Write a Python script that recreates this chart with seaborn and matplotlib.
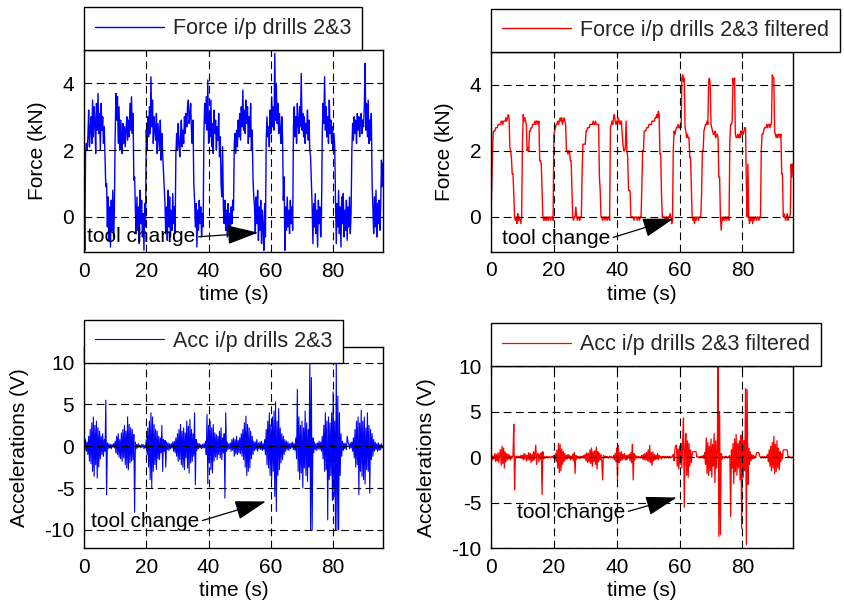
import numpy as np
import pandas as pd
import matplotlib
matplotlib.use("Agg")
import matplotlib.pyplot as plt
import seaborn as sns

DT = 0.25

# ---- Force, raw (kN), 4 samples per second ----
force_raw = [
    0.9, -1.0, 1.9, 2.2,   2.0, 2.4, 3.2, 2.1,   2.6, 3.0, 2.2, 3.5,   2.4, 3.3, 2.9, 1.9,
    3.4, 2.6, 3.7, 2.5,    3.1, 2.0, 3.4, 2.6,   3.0, 2.2, 2.7, 1.8,   0.9, 1.0, -0.3, 0.6,
    -0.7, 0.3, -0.9, 0.5,  -0.4, 0.8, -0.6, 0.2, 2.4, 3.7, 2.9, 3.6,   2.2, 3.3, 2.0, 2.9,
    2.5, 1.9, 2.8, 2.2,    2.7, 2.1, 2.6, 3.0,   2.3, 2.9, 2.4, 3.4,   2.6, 3.6, 2.5, 3.1,
    1.1, 1.2, 0.2, -0.5,   0.6, -0.4, 0.3, -0.8, 0.8, -0.2, 0.5, -0.6, 0.1, -1.0, 0.4, -0.3,
    2.6, 2.0, 3.0, 2.4,    3.3, 2.5, 4.2, 2.7,   3.5, 2.2, 3.0, 2.6,   2.3, 3.1, 1.9, 2.8,
    2.4, 2.0, 2.9, 1.7,    2.5, 1.9, 1.4, 0.9,   0.4, -0.5, 0.3, -0.7, 0.8, -0.3, 0.6, -0.6,
    0.2, -0.4, 0.7, -0.2,  0.3, -0.5, 1.9, 2.5,  2.0, 2.8, 2.2, 1.8,   2.4, 2.9, 2.1, 2.6,
    2.2, 3.0, 2.5, 3.1,    2.7, 3.3, 3.5, 2.8,   3.0, 3.4, 2.6, 2.2,   2.9, 1.0, 0.5, -0.3,
    0.4, -0.9, 0.2, -0.4,  0.5, -0.2, 0.3, -0.6, 0.1, -0.3, 2.5, 3.4,  2.8, 3.6, 2.6, 4.1,
    2.2, 3.0, 2.4, 3.5,    2.1, 2.8, 1.9, 3.2,   2.5, 2.9, 2.0, 2.7,   2.3, 3.1, 1.8, 2.4,
    1.0, 0.6, 2.1, 0.3,    -0.2, 0.5, -0.4, 0.2, -0.6, 0.4, -0.3, 0.1, -0.5, 0.3, -0.2, 0.5,
    0.2, 2.2, 2.5, 1.9,    2.6, 2.1, 2.9, 2.4,   3.1, 2.3, 3.3, 2.7,   3.8, 2.6, 3.2, 2.5,
    3.5, 2.8, 3.3, 2.2,    3.0, 2.4, 3.4, 2.0,   2.6, 1.2, 0.6, 0.3,   -0.5, 0.6, -0.2, 0.8,
    -0.7, 0.3, -0.4, 0.5,  -0.8, 0.2, -0.3, -1.0, 0.4, -0.6, 2.3, 3.0, 2.4, 2.7, 2.1, 3.2,
    2.5, 3.6, 2.7, 3.3,    2.6, 4.9, 2.9, 4.0,   2.8, 3.4, 2.5, 3.1,   2.6, 2.2, 3.0, 2.4,
    0.5, 1.2, -1.0, 0.3,   -0.4, 0.6, -0.3, 0.2, -0.5, 0.5, -0.2, 0.3, -0.4, 2.7, 3.3, 2.4,
    3.0, 2.2, 3.4, 2.8,    2.5, 3.3, 2.7, 4.3,   2.6, 3.1, 2.4, 3.0,   2.2, 2.8, 2.5, 3.2,
    2.3, 2.9, 2.0, 1.8,    1.0, 0.3, -0.8, 0.4,  -0.3, 0.7, -0.5, 0.2, -0.9, 0.5, -0.2, 0.3,
    -0.6, 0.1, 2.5, 3.4,   2.8, 4.2, 2.6, 3.3,   2.4, 3.0, 2.2, 3.5,   2.5, 2.9, 2.2, 2.7,
    2.0, 2.5, 2.1, 0.5,    -0.8, 0.4, -0.3, 0.8, -0.5, 0.3, -0.9, 0.6, -0.2, 0.7, -0.6, 0.2,
    -0.4, 0.5, -0.7, 0.3,  -0.3, 0.6, -0.5, 0.1, 2.0, 2.8, 2.3, 3.0,   2.5, 2.9, 2.2, 3.1,
    2.6, 3.0, 2.4, 2.8,    3.1, 2.5, 2.9, 2.7,   3.3, 4.6, 2.6, 3.4,   2.4, 3.5, 2.2, 2.9,
    2.3, 3.1, 1.0, 0.3,    -0.5, 0.6, -0.3, 0.8, -0.6, 0.4, -0.2, 0.5, -0.4, 0.3, 1.7, 0.9,
    1.6,
]

# ---- Force, filtered (kN) ----
force_filt = [
    0.0, 1.0, 2.0, 2.6,   2.6, 2.6, 2.7, 2.7,   2.7, 2.8, 2.8, 2.8,   2.8, 2.9, 2.9, 2.8,
    2.9, 2.9, 2.9, 3.0,   2.9, 3.0, 3.1, 3.0,   2.1, 2.0, 1.8, 1.3,   1.3, 0.7, 0.0, -0.1,
    0.0, -0.2, 0.1, -0.1, 0.0, -0.1, -0.2, 0.0, 2.2, 3.1, 2.9, 3.0,   2.9, 2.8, 2.0, 2.1,
    2.0, 2.6, 2.6, 2.7,   2.7, 2.8, 2.8, 2.8,   2.9, 2.8, 2.9, 2.9,   2.8, 2.9, 1.7, 1.7,
    1.6, 0.8, 0.0, -0.1,  0.0, -0.1, 0.0, -0.1, 0.0, -0.1, 0.0, 0.0,  -0.1, 0.0, 0.0, -0.1,
    2.5, 2.6, 2.7, 2.8,   2.8, 2.9, 2.8, 2.9,   3.0, 2.9, 3.0, 2.8,   2.9, 3.0, 2.9, 2.8,
    2.0, 2.0, 1.9, 2.0,   2.0, 1.7, 1.7, 0.8,   0.0, -0.1, 0.0, 0.0,  0.3, 0.0, -0.1, 0.0,
    0.0, -0.1, 0.0, 0.0,  1.4, 2.2, 2.2, 2.2,   2.2, 2.6, 2.6, 2.7,   2.7, 2.7, 2.8, 2.8,
    2.8, 2.8, 2.9, 2.8,   2.8, 2.9, 2.8, 2.8,   2.8, 2.8, 1.2, 0.8,   0.0, 0.0, -0.1, 0.0,
    0.0, -0.1, 0.0, 0.0,  -0.1, 0.0, 0.0, -0.1, 2.7, 2.8, 2.9, 2.8,   3.0, 3.1, 2.9, 2.8,
    2.9, 2.8, 3.0, 2.9,   2.8, 2.9, 2.9, 2.5,   2.2, 2.0, 2.0, 2.1,   2.9, 2.0, 1.8, 0.8,
    0.8, 0.8, 0.0, 0.0,   0.0, 0.0, -0.1, 0.0,  0.0, 0.0, -0.1, 0.0,  0.0, -0.1, 0.0, 0.0,
    0.9, 2.0, 2.0, 2.6,   2.6, 2.6, 2.7, 2.7,   2.7, 2.8, 2.8, 2.8,   2.8, 2.9, 2.9, 2.9,
    2.9, 3.0, 3.0, 3.1,   3.0, 3.2, 3.1, 1.9,   1.9, 0.7, 0.0, 0.0,   0.0, 0.0, -0.1, 0.0,
    0.0, -0.1, 0.0, 0.0,  0.1, 0.0, -0.2, -0.1, 2.0, 2.6, 2.5, 2.6,   2.7, 2.7, 2.8, 2.7,
    2.7, 2.8, 2.7, 4.2,   4.3, 4.1, 4.2, 2.7,   2.6, 2.4, 2.5, 2.4,   2.4, 1.8, 1.8, 0.9,
    0.0, -0.1, 0.0, -0.2, 0.0, -0.1, 0.0, 0.0,  -0.1, 0.0, 0.0, 0.0,  0.7, 2.0, 2.0, 2.6,
    2.7, 2.8, 2.8, 2.9,   2.8, 4.1, 4.2, 4.0,   2.8, 2.7, 2.6, 2.5,   2.5, 2.6, 2.4, 2.5,
    2.5, 2.4, 1.2, 1.2,   0.0, -0.4, 0.0, -0.1, 0.0, -0.1, 0.0, 0.0,  -0.1, 0.0, 0.0, -0.1,
    2.3, 2.8, 2.8, 2.9,   4.2, 4.0, 4.2, 2.5,   2.4, 2.4, 2.5, 2.4,   2.5, 2.4, 2.6, 2.5,
    2.6, 2.5, 2.6, 2.7,   2.7, 1.0, 0.0, 1.6,   0.0, -0.2, 0.0, -0.1, 0.0, -0.2, 0.0, -0.1,
    0.0, 0.0, -0.1, 0.0,  0.0, -0.1, 0.0, 0.0,  2.0, 2.5, 2.5, 2.6,   2.7, 2.7, 2.7, 2.8,
    2.7, 2.8, 2.8, 2.7,   2.8, 2.8, 4.3, 4.2,   4.2, 2.6, 2.5, 2.4,   2.5, 2.4, 2.5, 2.5,
    2.4, 2.5, 1.3, 1.3,   0.0, 0.1, 0.0, -0.1,  0.0, 0.1, -0.1, 0.0,  0.0, 0.1, 1.6, 1.2,
    1.6,
]

# ---- Accelerations, raw (V) ----
acc_raw = [
    0.2, -0.5, 0.8, -0.6,  0.5, -1.0, 1.2, -1.8, 2.0, -2.1, 2.8, -3.0, 3.5, -3.6, 2.5, -2.2,
    3.0, -3.8, 2.2, -2.5,  1.8, -1.5, 1.2, -1.0, 1.5, -1.2, 0.8, -0.6, 5.5, -5.8, 0.4, -0.3,
    0.3, -0.2, 0.2, -0.3,  0.2, -0.1, 0.3, -0.2, 0.6, -0.8, 1.2, -1.0, 1.5, -1.3, 0.8, -1.5,
    1.6, -1.8, 2.0, -1.4,  2.5, -2.2, 1.8, -2.6, 3.5, -2.8, 2.6, -2.0, 2.2, -1.8, 2.0, -1.6,
    1.4, -7.9, 0.5, -0.3,  0.2, -0.2, 0.3, -0.1, 0.1, -0.2, 0.2, -0.1, 0.2, -0.3, 0.1, -0.2,
    0.8, -1.0, 2.2, -2.5,  3.0, -4.0, 4.0, -5.0, 3.5, -3.0, 2.6, -2.2, 2.0, -2.8, 1.8, -1.5,
    1.2, -1.6, 1.0, -0.8,  2.5, -3.0, 0.8, -0.6, 0.7, -2.5, 0.5, -0.4, 0.4, -0.5, 0.3, -0.3,
    0.3, -0.2, 0.5, -0.6,  0.6, -0.8, 1.0, -1.2, 1.5, -1.8, 2.0, -1.6, 2.6, -2.2, 1.8, -2.5,
    2.2, -2.8, 1.6, -1.4,  3.0, -2.6, 2.4, -3.2, 3.2, -2.0, 2.0, -1.8, 1.5, -1.2, 4.0, -4.6,
    0.8, -0.5, 0.4, -0.3,  0.3, -0.2, 0.2, -0.3, 0.2, -0.2, 0.3, -0.2, 0.6, -1.0, 3.8, -4.5,
    2.5, -2.0, 3.0, -2.8,  2.2, -3.2, 2.6, -1.8, 1.6, -1.3, 1.4, -1.6, 1.2, -1.0, 1.8, -1.4,
    2.2, -1.6, 1.0, -0.8,  1.5, -6.2, 4.0, -0.6, 0.5, -0.4, 0.3, -0.3, 0.4, -0.6, 0.8, -0.5,
    1.0, -1.2, 0.8, -0.9,  1.2, -1.0, 0.7, -0.8, 1.0, -0.9, 1.5, -1.2, 2.0, -1.6, 2.8, -2.5,
    3.6, -3.5, 2.6, -3.0,  2.2, -2.6, 1.8, -1.5, 1.2, -1.0, 0.6, -0.5, 0.5, -0.4, 0.8, -0.6,
    0.4, -0.3, 0.5, -0.4,  0.6, -0.5, 0.3, -0.4, 0.8, -1.0, 2.0, -2.2, 3.0, -2.6, 4.0, -3.5,
    2.6, -4.0, 3.5, -3.0,  4.2, -6.0, 5.3, -7.8, 3.0, -3.5, 4.5, -2.8, 2.2, -2.0, 1.5, -1.6,
    1.2, -1.0, 0.8, -0.6,  0.6, -0.4, 0.5, -0.5, 0.3, -0.3, 0.4, -0.2, 0.5, -0.4, 0.3, -0.5,
    1.0, -1.5, 6.8, -3.0,  3.5, -4.0, 2.5, -3.2, 3.0, -5.0, 2.2, -2.6, 4.2, -3.5, 2.8, -4.2,
    2.0, -2.5, 10.0, -10.0, 8.2, -10.0, 1.0, -0.8, 0.5, -0.4, 0.3, -0.5, 0.4, -0.3, 0.6, -0.4,
    0.5, -0.6, 1.2, -1.5,  2.5, -3.0, 4.0, -2.8, 3.0, -8.8, 3.5, -4.0, 2.8, -3.5, 4.0, -6.5,
    6.5, -6.0, 3.0, -10.0, 10.0, -10.0, 6.0, -10.0, 4.0, -3.5, 1.5, -1.2, 0.6, -0.5, 0.4, -0.3,
    0.3, -0.4, 1.2, 0.5,   0.2, -0.3, 0.4, -0.2, 0.5, -0.6, 1.0, -1.4, 2.0, -2.5, 3.0, -2.2,
    3.5, -5.8, 2.8, -3.0,  4.3, -3.6, 3.0, -4.0, 3.5, -4.5, 2.2, -2.8, 4.0, -3.0, 2.5, -5.6,
    2.0, -1.6, 1.5, -1.2,  0.8, -0.6, 0.5, -0.4, 0.3, -0.6, 0.4, -0.5, 0.2, -0.4, 0.3, -0.2,
    0.1,
]

# ---- Accelerations, filtered (V) ----
acc_filt = [
    0.0, 0.2, -0.3, 0.1,   -0.2, 0.4, -0.5, 0.3, -0.4, 0.5, -0.6, 0.2,  0.8, -0.9, 1.2, -0.7,
    1.0, -1.2, 0.6, -0.5,  0.4, -0.3, 0.3, -0.2, 0.2, -0.3, 0.1, -0.1,  0.2, 3.6, -3.6, 0.1,
    0.1, -0.1, 0.1, 0.0,   0.1, -0.1, 0.2, -0.1, 0.2, -0.3, 0.4, -0.2,  0.3, -0.4, 0.2, -0.3,
    0.5, -0.3, 0.4, -0.6,  0.3, -0.4, 0.6, -0.3, 0.5, 1.3, -0.8, 0.3,   0.4, -0.5, 0.3, -0.2,
    0.5, -4.1, 0.6, -0.2,  0.1, -0.1, 0.0, 0.1,  0.0, -0.1, 0.1, 0.0,   -0.1, 0.1, 0.0, 0.1,
    0.2, -0.3, 0.4, -0.5,  0.8, -1.2, 1.5, -1.7, 1.4, -1.5, 0.9, -0.8,  0.6, -0.5, 0.4, -0.3,
    0.2, -0.2, 0.3, -0.1,  0.2, -0.3, 0.1, -0.2, 0.3, -0.4, 0.5, -1.8,  0.2, -0.2, 0.1, -0.1,
    0.1, -0.2, 0.1, 0.0,   0.1, -0.1, 0.2, -0.1, 0.3, -0.4, 0.5, -0.6,  0.4, -0.5, 0.8, -0.7,
    1.0, -1.0, 0.6, -0.5,  0.7, -0.8, 1.1, -1.3, 0.6, -0.5, 0.4, -0.3,  0.3, -0.4, -2.5, 0.2,
    0.1, -0.1, 0.1, 0.0,   0.1, -0.1, 0.0, 0.1,  -0.1, 0.1, 0.0, -0.1, 0.2, -0.3, 0.4, -0.5,
    1.0, -2.5, 1.3, -0.6,  0.5, -0.4, 0.6, -0.3, 0.3, -0.2, 0.4, -0.3,  0.2, -0.3, 0.2, -0.1,
    0.3, -0.4, 0.5, -0.6,  1.4, -2.5, 0.4, -0.3, 0.2, -0.1, 0.1, -0.1,  0.1, 0.0, -0.1, 0.1,
    0.2, -0.2, 0.3, -0.3,  0.4, -0.3, 0.5, -0.4, 0.8, -0.5, 1.3, -0.6,  0.5, -0.9, 0.6, -0.4,
    0.3, -0.3, 0.2, -0.2,  0.4, -0.3, 0.2, -0.1, 0.1, -0.2, 0.1, 0.0,   0.1, -0.1, 0.1, 0.0,
    0.0, 0.1, -0.1, 0.1,   0.0, -0.1, 0.1, 0.0,  0.3, -0.4, 0.8, 1.3,   1.3, -1.0, 0.9, -1.3,
    1.2, -0.8, 1.5, -1.2,  2.0, 4.3, -5.5, 1.0,  2.6, -2.0, 1.8, -2.2,  1.5, -1.0, 0.8, -0.6,
    0.3, 0.6, 0.6, 0.6,    0.6, 0.6, 0.0, 0.1,   0.0, -0.1, 0.1, 0.0,   0.1, -0.1, 0.2, -0.1,
    0.5, -0.8, 2.1, -1.8,  1.6, -2.0, 1.2, -1.5, 2.0, -2.2, 1.4, -1.0,  2.6, -2.8, 1.8, -1.2,
    0.8, 10.0, -8.7, 5.0,  -8.5, 0.4, -0.2, 0.1, 0.0, -0.1, 0.1, 0.0,   0.1, -0.1, 0.0, 0.1,
    0.2, -6.5, 0.8, -1.2,  1.5, -2.9, 2.0, -1.6, 2.5, -2.0, 1.5, -1.2,  1.8, -2.5, 2.4, -7.8,
    2.5, -2.2, 1.8, -1.5,  7.5, -9.6, 7.4, -3.0, 1.0, -0.8, 0.6, -0.4,  0.3, -0.2, 0.2, -0.1,
    0.1, 0.0, 0.5, 0.5,    0.5, 0.5, 0.1, 0.0,   -0.1, 0.1, 0.0, -0.1,  0.1, -0.1, 0.0, 0.1,
    0.3, -0.5, 0.8, -1.0,  1.2, -1.5, 1.6, -1.2, 2.3, -1.8, 1.4, -1.6,  1.8, -1.2, 1.0, -1.4,
    0.6, -0.5, 0.4, -0.2,  0.8, 0.8, 0.8, 0.8,   0.8, 0.8, 0.0, 0.0,    0.1, 0.0, -0.1, 0.0,
    0.0,
]

x_ticks = [0, 20, 40, 60, 80]
force_yticks = [0, 2, 4]
acc_yticks = [-10, -5, 0, 5, 10]

sns.set_theme(style="white")
plt.rcParams['font.family'] = ['Liberation Sans', 'DejaVu Sans']
plt.rcParams['axes.unicode_minus'] = False
FS = 15
LEG_FS = 15.5

fig = plt.figure(figsize=(8.44, 6.06), dpi=100)
W, H = 844.0, 606.0


def make_ax(x0, x1, ytop, ybot):
    return fig.add_axes([x0 / W, 1 - ybot / H, (x1 - x0) / W, (ybot - ytop) / H])


ax_tl = make_ax(84, 383, 50, 252)
ax_tr = make_ax(491, 792.7, 51.7, 251.7)
ax_bl = make_ax(84, 383, 346.7, 548.3)
ax_br = make_ax(491, 792.7, 366, 548.3)


def draw(ax, vals, color, label, lw):
    df = pd.DataFrame({"t": np.arange(len(vals)) * DT, "v": vals})
    sns.lineplot(data=df, x="t", y="v", ax=ax, color=color, linewidth=lw,
                 label=label, estimator=None)


def style(ax, ylim, yticks, ylabel, legend_y):
    ax.set_xlim(0, 96)
    ax.set_ylim(*ylim)
    ax.set_xticks(x_ticks)
    ax.set_yticks(yticks)
    ax.set_axisbelow(False)
    ax.grid(True, color='black', linestyle=(0, (7, 4)), linewidth=0.8)
    for s in ax.spines.values():
        s.set_visible(True)
        s.set_color('black')
        s.set_linewidth(1.0)
    ax.tick_params(direction='in', length=4, width=0.8, colors='black',
                   labelsize=FS, pad=7, top=True, right=True)
    ax.set_xlabel('time (s)', fontsize=FS, labelpad=3, color='black')
    ax.set_ylabel(ylabel, fontsize=FS, labelpad=11, color='black')
    leg = ax.legend(loc='lower left', bbox_to_anchor=(0, legend_y), borderaxespad=0,
                    frameon=True, fancybox=False, edgecolor='black', framealpha=1,
                    fontsize=LEG_FS, handlelength=3.2, handletextpad=0.45, borderpad=0.5)
    leg.get_frame().set_linewidth(1.0)


def tool_change(ax, txt_xy, tip_xy):
    ax.annotate('tool change', xy=tip_xy, xytext=txt_xy, ha='left', va='center',
                fontsize=FS, color='black',
                arrowprops=dict(arrowstyle='-|>,head_length=1.3,head_width=0.4',
                                color='black', lw=0.9, shrinkA=0, shrinkB=0,
                                mutation_scale=15, relpos=(1.0, 0.5)))


draw(ax_tl, force_raw, (0, 0, 1), 'Force i/p drills 2&3', 1.0)
style(ax_tl, (-1.05, 5.0), force_yticks, 'Force (kN)', 1.0)
tool_change(ax_tl, (1.0, -0.6), (55.9, -0.47))

draw(ax_tr, force_filt, (1, 0, 0), 'Force i/p drills 2&3 filtered', 1.0)
style(ax_tr, (-1.05, 5.0), force_yticks, 'Force (kN)', 1.0)
tool_change(ax_tr, (3.4, -0.65), (58.1, -0.05))

draw(ax_bl, acc_raw, (0, 0, 1), 'Acc i/p drills 2&3', 0.8)
style(ax_bl, (-12.2, 11.9), acc_yticks, 'Accelerations (V)', 0.9206)
tool_change(ax_bl, (2.2, -9.0), (58.4, -6.6))

draw(ax_br, acc_filt, (1, 0, 0), 'Acc i/p drills 2&3 filtered', 0.9)
style(ax_br, (-10, 10), acc_yticks, 'Accelerations (V)', 1.0)
tool_change(ax_br, (8.2, -6.05), (59.1, -4.43))

fig.savefig('out.png', dpi=100)
